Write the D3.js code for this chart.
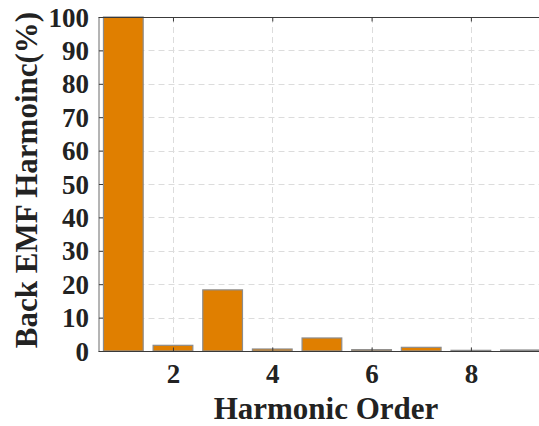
<!DOCTYPE html>
<html>
<head>
<meta charset="utf-8">
<script src="https://cdn.jsdelivr.net/npm/d3@7"></script>
<style>
  html, body { margin: 0; padding: 0; background: #fff; overflow: hidden; }
  svg { display: block; }
  text { font-family: "Liberation Serif", "Times New Roman", serif; font-weight: bold; fill: #222; }
</style>
</head>
<body>
<svg id="chart" width="539" height="426"></svg>
<script>
// Harmonic spectrum of the back EMF, in percent of the fundamental
const harmonicOrders = [1, 2, 3, 4, 5, 6, 7, 8, 9];
const harmonicPercent = [100, 1.7, 18.3, 0.6, 3.9, 0.4, 1.1, 0.2, 0.3];
const xTickValues = [2, 4, 6, 8];
const yTickValues = [0, 10, 20, 30, 40, 50, 60, 70, 80, 90, 100];

const svg = d3.select("#chart");
const plotLeft = 98.5, plotTop = 17, plotBottom = 351;
const unit = 49.65;
const plotRight = plotLeft + 9 * unit; // axes run past the window edge

const x = d3.scaleLinear().domain([0.5, 9.5]).range([plotLeft, plotRight]);
const y = d3.scaleLinear().domain([0, 100]).range([plotBottom, plotTop]);
const barW = 0.8 * unit;

// dashed grid
const grid = svg.append("g").attr("stroke", "#dcdcdc").attr("stroke-width", 1)
  .attr("stroke-dasharray", "6,4").attr("fill", "none");
grid.selectAll("line.h").data(yTickValues.filter(v => v > 0 && v < 100)).join("line")
  .attr("class", "h")
  .attr("x1", plotLeft).attr("x2", plotRight)
  .attr("y1", d => Math.round(y(d)) + 0.5).attr("y2", d => Math.round(y(d)) + 0.5);
grid.selectAll("line.v").data(xTickValues).join("line")
  .attr("class", "v")
  .attr("y1", plotTop).attr("y2", plotBottom)
  .attr("x1", d => Math.round(x(d)) + 0.5).attr("x2", d => Math.round(x(d)) + 0.5);

// bars
svg.append("g").selectAll("rect").data(harmonicOrders).join("rect")
  .attr("x", (d) => x(d) - barW / 2)
  .attr("width", barW)
  .attr("y", (d, i) => y(harmonicPercent[i]))
  .attr("height", (d, i) => y(0) - y(harmonicPercent[i]))
  .attr("fill", "#e07f00")
  .attr("stroke", "#8c8c8c")
  .attr("stroke-width", 1.2);

// axes box
const axisColor = "#3a3a3a";
svg.append("line").attr("x1", plotLeft).attr("x2", plotRight).attr("y1", plotTop + 0.5).attr("y2", plotTop + 0.5)
  .attr("stroke", axisColor);
svg.append("line").attr("x1", plotLeft).attr("x2", plotRight).attr("y1", plotBottom + 0.5).attr("y2", plotBottom + 0.5)
  .attr("stroke", axisColor);
svg.append("line").attr("x1", plotLeft + 0.5).attr("x2", plotLeft + 0.5).attr("y1", plotTop).attr("y2", plotBottom + 1)
  .attr("stroke", "#6a6a6a");

// y axis (ticks inward, labels outside)
const yAxis = d3.axisLeft(y).tickValues(yTickValues).tickSizeInner(-4).tickSizeOuter(0).tickPadding(10);
const gy = svg.append("g").attr("transform", `translate(${plotLeft + 0.5},0)`).call(yAxis);
gy.select(".domain").remove();
gy.selectAll(".tick line").attr("stroke", axisColor);
gy.selectAll(".tick text").attr("font-size", 27).attr("fill", "#222")
  .attr("font-family", "'Liberation Serif', 'Times New Roman', serif").attr("font-weight", "bold")
  .attr("dy", "0.34em");

// x axis (ticks inward on bottom and top)
const xAxis = d3.axisBottom(x).tickValues(xTickValues).tickSizeInner(-4).tickSizeOuter(0).tickPadding(12);
const gx = svg.append("g").attr("transform", `translate(0,${plotBottom + 0.5})`).call(xAxis);
gx.select(".domain").remove();
gx.selectAll(".tick line").attr("stroke", axisColor);
gx.selectAll(".tick text").attr("font-size", 27).attr("fill", "#222")
  .attr("font-family", "'Liberation Serif', 'Times New Roman', serif").attr("font-weight", "bold");

const xTop = d3.axisTop(x).tickValues(xTickValues).tickSizeInner(-4).tickSizeOuter(0).tickFormat("");
const gt = svg.append("g").attr("transform", `translate(0,${plotTop + 0.5})`).call(xTop);
gt.select(".domain").remove();
gt.selectAll(".tick line").attr("stroke", axisColor);

// axis titles
svg.append("text")
  .attr("x", 326).attr("y", 419)
  .attr("text-anchor", "middle")
  .attr("font-size", 31)
  .text("Harmonic Order");

svg.append("text")
  .attr("transform", "translate(37,180) rotate(-90)")
  .attr("text-anchor", "middle")
  .attr("font-size", 31)
  .text("Back EMF Harmoinc(%)");
</script>
</body>
</html>
